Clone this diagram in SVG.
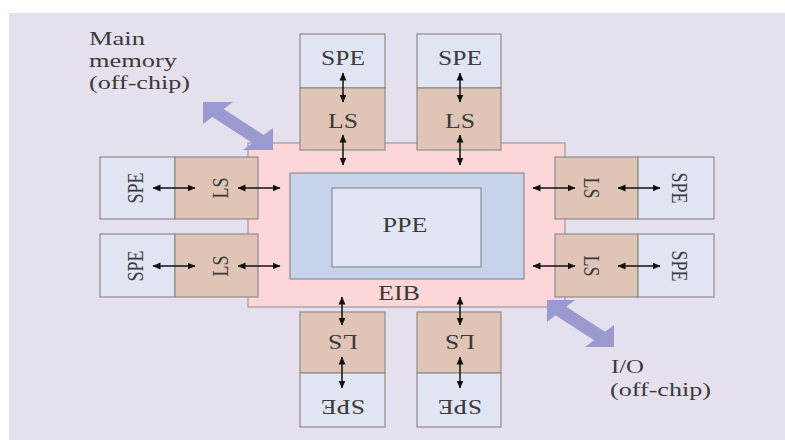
<svg xmlns="http://www.w3.org/2000/svg" width="785" height="440" viewBox="0 0 785 440">
<style>
  text { font-family: "Liberation Serif", "Times New Roman", serif; fill: #3a3a3a; }
  .spe { fill: #e1e4f3; stroke: #8c8c8c; stroke-width: 1.2; }
  .ls { fill: #e0c4b6; stroke: #8c8c8c; stroke-width: 1.2; }
  .eib { fill: #fdd6d8; stroke: #9a9a9a; stroke-width: 1.2; }
  .ppeo { fill: #c6d3ea; stroke: #8c8c8c; stroke-width: 1.2; }
  .ppei { fill: #e2e5f4; stroke: #8c8c8c; stroke-width: 1.2; }
  .lbl { font-size: 20px; }
  .rl { font-size: 18px; }
  .note { font-size: 18px; }
  .c { stroke: #111; stroke-width: 1.5; fill: none; marker-start: url(#ah); marker-end: url(#ah); }
  .big { fill: #9a9ad0; }
</style>
<defs>
  <marker id="ah" viewBox="0 0 8 8" refX="7.5" refY="4" markerWidth="8" markerHeight="8" markerUnits="userSpaceOnUse" orient="auto-start-reverse">
    <path d="M0,0.5 L8,4 L0,7.5 z" fill="#111"/>
  </marker>
</defs>
<rect x="0" y="0" width="785" height="440" fill="#ffffff"/>
<rect x="9" y="13" width="776" height="427" fill="#e6dfee"/>

<g id="eib">
  <rect class="eib" x="248" y="143" width="317" height="164"/>
  <text class="lbl" x="399" y="300" text-anchor="middle" textLength="42" lengthAdjust="spacingAndGlyphs">EIB</text>
</g>
<g id="ppe">
  <rect class="ppeo" x="290" y="173" width="234" height="106"/>
  <rect class="ppei" x="332" y="188" width="149" height="79"/>
  <text class="lbl" x="405" y="232" text-anchor="middle" textLength="45" lengthAdjust="spacingAndGlyphs">PPE</text>
</g>

<!-- top -->
<g id="spe-t1">
  <rect class="spe" x="300" y="34" width="85" height="54"/>
  <text class="lbl" x="343" y="65" text-anchor="middle" textLength="44" lengthAdjust="spacingAndGlyphs">SPE</text>
</g>
<g id="ls-t1">
  <rect class="ls" x="300" y="88" width="85" height="62"/>
  <text class="lbl" x="343" y="128" text-anchor="middle" textLength="30" lengthAdjust="spacingAndGlyphs">LS</text>
</g>
<g id="spe-t2">
  <rect class="spe" x="417" y="34" width="84" height="54"/>
  <text class="lbl" x="460" y="65" text-anchor="middle" textLength="44" lengthAdjust="spacingAndGlyphs">SPE</text>
</g>
<g id="ls-t2">
  <rect class="ls" x="417" y="88" width="84" height="62"/>
  <text class="lbl" x="460" y="128" text-anchor="middle" textLength="30" lengthAdjust="spacingAndGlyphs">LS</text>
</g>

<!-- bottom -->
<g id="ls-b1">
  <rect class="ls" x="300" y="312" width="85" height="61"/>
  <text class="lbl" transform="translate(343,335) rotate(180)" x="0" y="0" text-anchor="middle" textLength="30" lengthAdjust="spacingAndGlyphs">LS</text>
</g>
<g id="spe-b1">
  <rect class="spe" x="300" y="373" width="85" height="54"/>
  <text class="lbl" transform="translate(343,400) rotate(180)" x="0" y="0" text-anchor="middle" textLength="44" lengthAdjust="spacingAndGlyphs">SPE</text>
</g>
<g id="ls-b2">
  <rect class="ls" x="417" y="312" width="84" height="61"/>
  <text class="lbl" transform="translate(460,335) rotate(180)" x="0" y="0" text-anchor="middle" textLength="30" lengthAdjust="spacingAndGlyphs">LS</text>
</g>
<g id="spe-b2">
  <rect class="spe" x="417" y="373" width="84" height="54"/>
  <text class="lbl" transform="translate(460,400) rotate(180)" x="0" y="0" text-anchor="middle" textLength="44" lengthAdjust="spacingAndGlyphs">SPE</text>
</g>

<!-- left -->
<g id="spe-l1">
  <rect class="spe" x="100" y="157" width="75" height="62"/>
  <text class="rl" transform="translate(143,188) scale(1.25,1) rotate(-90)" x="0" y="0" text-anchor="middle">SPE</text>
</g>
<g id="ls-l1">
  <rect class="ls" x="175" y="157" width="83" height="62"/>
  <text class="rl" transform="translate(228,188) scale(1.25,1) rotate(-90)" x="0" y="0" text-anchor="middle">LS</text>
</g>
<g id="spe-l2">
  <rect class="spe" x="100" y="234" width="75" height="63"/>
  <text class="rl" transform="translate(143,266) scale(1.25,1) rotate(-90)" x="0" y="0" text-anchor="middle">SPE</text>
</g>
<g id="ls-l2">
  <rect class="ls" x="175" y="234" width="83" height="63"/>
  <text class="rl" transform="translate(228,266) scale(1.25,1) rotate(-90)" x="0" y="0" text-anchor="middle">LS</text>
</g>

<!-- right -->
<g id="ls-r1">
  <rect class="ls" x="555" y="157" width="83" height="62"/>
  <text class="rl" transform="translate(584,188) scale(1.25,1) rotate(90)" x="0" y="0" text-anchor="middle">LS</text>
</g>
<g id="spe-r1">
  <rect class="spe" x="638" y="157" width="76" height="62"/>
  <text class="rl" transform="translate(672,188) scale(1.25,1) rotate(90)" x="0" y="0" text-anchor="middle">SPE</text>
</g>
<g id="ls-r2">
  <rect class="ls" x="555" y="234" width="83" height="63"/>
  <text class="rl" transform="translate(584,266) scale(1.25,1) rotate(90)" x="0" y="0" text-anchor="middle">LS</text>
</g>
<g id="spe-r2">
  <rect class="spe" x="638" y="234" width="76" height="63"/>
  <text class="rl" transform="translate(672,266) scale(1.25,1) rotate(90)" x="0" y="0" text-anchor="middle">SPE</text>
</g>

<g id="main-memory">
  <text class="note" x="89" y="45" textLength="56" lengthAdjust="spacingAndGlyphs">Main</text>
  <text class="note" x="89" y="67" textLength="88" lengthAdjust="spacingAndGlyphs">memory</text>
  <text class="note" x="89" y="89" textLength="101" lengthAdjust="spacingAndGlyphs">(off-chip)</text>
</g>
<g id="io">
  <text class="note" x="611" y="373" textLength="33" lengthAdjust="spacingAndGlyphs">I/O</text>
  <text class="note" x="610" y="396" textLength="101" lengthAdjust="spacingAndGlyphs">(off-chip)</text>
</g>

<g id="connectors">
  <polygon class="big" points="203,102 233,102 223.6,108.9 263.6,134.9 273,128 273,150 243,150 252.4,143.1 212.4,117.1 203,124"/>
  <polygon class="big" points="547,300 575,300 566.5,306.7 605,331.7 614,325 614,347 585,347 594,340.3 555.5,315.3 547,322"/>
  <line class="c" x1="343" y1="73" x2="343" y2="102"/>
  <line class="c" x1="343" y1="135" x2="343" y2="165"/>
  <line class="c" x1="460" y1="73" x2="460" y2="102"/>
  <line class="c" x1="460" y1="135" x2="460" y2="165"/>
  <line class="c" x1="342" y1="297" x2="342" y2="325"/>
  <line class="c" x1="342" y1="357" x2="342" y2="388"/>
  <line class="c" x1="460" y1="297" x2="460" y2="325"/>
  <line class="c" x1="460" y1="357" x2="460" y2="388"/>
  <line class="c" x1="153" y1="188" x2="195" y2="188"/>
  <line class="c" x1="238" y1="188" x2="280" y2="188"/>
  <line class="c" x1="153" y1="266" x2="195" y2="266"/>
  <line class="c" x1="238" y1="266" x2="280" y2="266"/>
  <line class="c" x1="533" y1="188" x2="575" y2="188"/>
  <line class="c" x1="618" y1="188" x2="660" y2="188"/>
  <line class="c" x1="533" y1="266" x2="575" y2="266"/>
  <line class="c" x1="618" y1="266" x2="660" y2="266"/>
</g>
</svg>
